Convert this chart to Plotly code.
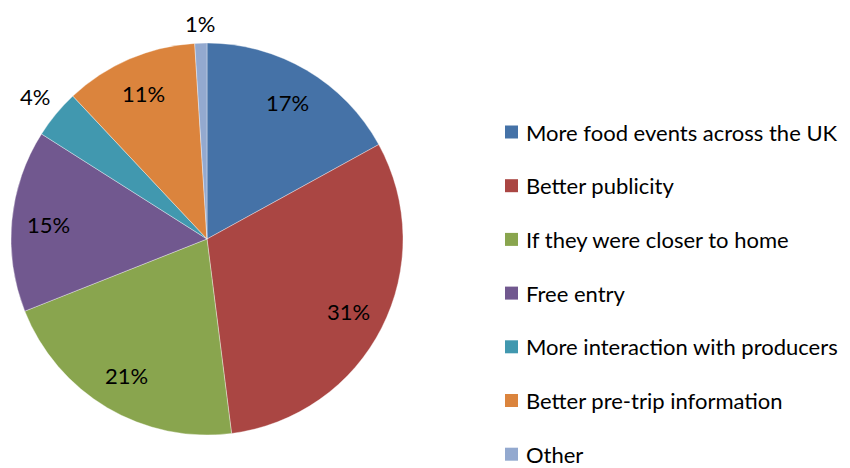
import math
import plotly.graph_objects as go

# Survey responses: what would encourage more visits to food events
labels = [
    "More food events across the UK",
    "Better publicity",
    "If they were closer to home",
    "Free entry",
    "More interaction with producers",
    "Better pre-trip information",
    "Other",
]
shares = [17, 31, 21, 15, 4, 11, 1]
colors = ["#4572A7", "#AA4643", "#89A54E", "#71588F", "#4198AF", "#DB843D", "#93A9CF"]
label_outside = [False, False, False, False, True, False, True]

FONT = "Lato"
FS = 22
W, H = 850, 468

# Pie geometry in pixels (center from top-left, radius)
CX, CY, R = 207, 239, 196

fig = go.Figure(
    go.Pie(
        labels=labels,
        values=shares,
        sort=False,
        direction="clockwise",
        rotation=0,
        marker=dict(colors=colors, line=dict(color="rgba(255,255,255,0.6)", width=0.6)),
        textinfo="none",
        showlegend=False,
        domain=dict(x=[(CX - R) / W, (CX + R) / W], y=[(H - CY - R) / H, (H - CY + R) / H]),
        hoverinfo="label+percent",
    )
)

annotations = []

# Percentage labels placed along each slice's mid-angle
total = sum(shares)
cum = 0
for val, outside in zip(shares, label_outside):
    mid = (cum + val / 2) / total * 2 * math.pi
    cum += val
    ux, uy = math.sin(mid), math.cos(mid)
    text = f"{round(val / total * 100)}%"
    if outside:
        half_w = 0.5 * FS * (0.58 * (len(text) - 1) + 0.85)
        half_h = 0.5 * FS
        dist = R + 8 + abs(ux) * half_w + abs(uy) * half_h
    else:
        dist = 0.81 * R
    annotations.append(dict(
        text=text, xref="paper", yref="paper",
        x=(CX + ux * dist) / W, y=(H - CY + uy * dist) / H,
        xanchor="center", yanchor="middle", showarrow=False,
        font=dict(family=FONT, size=FS, color="black"),
    ))

# Legend drawn as colour swatches with labels beside them
shapes = []
top, step = 132, 53.7
for i, (name, col) in enumerate(zip(labels, colors)):
    yc = top + i * step
    shapes.append(dict(
        type="rect", xref="paper", yref="paper",
        x0=505 / W, x1=518 / W, y0=(H - yc - 6.5) / H, y1=(H - yc + 6.5) / H,
        fillcolor=col, line=dict(width=0),
    ))
    annotations.append(dict(
        text=name, xref="paper", yref="paper", x=525 / W, y=(H - yc) / H,
        xanchor="left", yanchor="middle", showarrow=False, borderpad=0,
        font=dict(family=FONT, size=FS, color="black"),
    ))

fig.update_layout(
    width=W,
    height=H,
    margin=dict(l=0, r=0, t=0, b=0),
    paper_bgcolor="white",
    plot_bgcolor="white",
    shapes=shapes,
    annotations=annotations,
)

fig.write_html("out.html")
